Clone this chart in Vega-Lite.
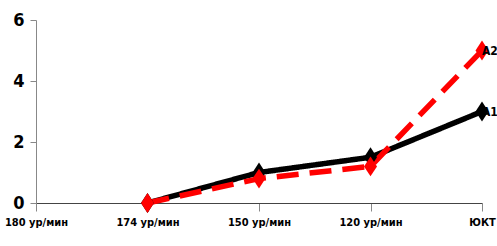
{
  "$schema": "https://vega.github.io/schema/vega-lite/v6.json",
  "autosize": "none",
  "width": 446,
  "height": 183,
  "padding": {"left": 36, "top": 20, "right": 15, "bottom": 43},
  "background": "white",
  "config": {"view": {"stroke": null}},
  "data": {"values": [
    {"cat": "174 ур/мин", "series": "А1", "value": 0},
    {"cat": "150 ур/мин", "series": "А1", "value": 1.0},
    {"cat": "120 ур/мин", "series": "А1", "value": 1.5},
    {"cat": "ЮКТ", "series": "А1", "value": 3.0},
    {"cat": "174 ур/мин", "series": "А2", "value": 0},
    {"cat": "150 ур/мин", "series": "А2", "value": 0.8},
    {"cat": "120 ур/мин", "series": "А2", "value": 1.2},
    {"cat": "ЮКТ", "series": "А2", "value": 5.0}
  ]},
  "encoding": {
    "x": {"field": "cat", "type": "ordinal", "sort": null,
      "scale": {"type": "point", "padding": 0, "domain": ["180 ур/мин", "174 ур/мин", "150 ур/мин", "120 ур/мин", "ЮКТ"]},
      "axis": {"title": null, "labelAngle": 0, "labelFont": "DejaVu Sans Condensed, Liberation Sans", "labelFontWeight": "bold", "labelFontSize": 11, "labelColor": "black", "domainColor": "#444", "tickColor": "#888", "tickSize": 8, "labelPadding": 5, "grid": false, "labelOverlap": false}},
    "y": {"field": "value", "type": "quantitative",
      "scale": {"domain": [0, 6], "nice": false},
      "axis": {"title": null, "values": [0, 2, 4, 6], "labelFont": "DejaVu Sans Condensed, Liberation Sans", "labelFontWeight": "bold", "labelFontSize": 18, "labelColor": "black", "domainColor": "#888", "tickColor": "#888", "tickSize": 6, "labelPadding": 6, "grid": false}},
    "color": {"field": "series", "type": "nominal", "scale": {"domain": ["А1", "А2"], "range": ["black", "#ff0000"]}, "legend": null}
  },
  "layer": [
    {"mark": {"type": "line", "strokeWidth": 5.5},
     "encoding": {"strokeDash": {"field": "series", "type": "nominal", "scale": {"domain": ["А1", "А2"], "range": [[1, 0], [22, 11]]}, "legend": null}}},
    {"mark": {"type": "point", "shape": "M-0.75,0L0,-1.15L0.75,0L0,1.15Z", "filled": true, "size": 300, "opacity": 1}},
    {"transform": [{"filter": "datum.cat == 'ЮКТ'"}],
     "mark": {"type": "text", "align": "left", "dx": 0, "font": "DejaVu Sans Condensed, Liberation Sans", "fontWeight": "bold", "fontSize": 12, "color": "black"},
     "encoding": {"text": {"field": "series"}, "color": {"value": "black"}}}
  ]
}
